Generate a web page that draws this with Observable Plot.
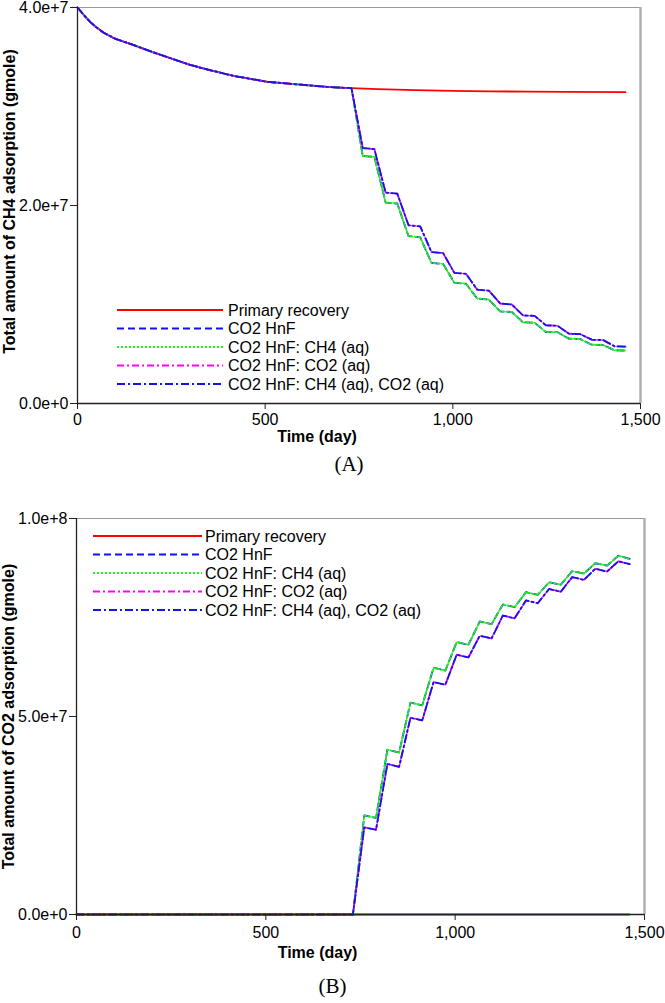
<!DOCTYPE html>
<html>
<head>
<meta charset="utf-8">
<script src="https://cdn.jsdelivr.net/npm/d3@7"></script>
<script src="https://cdn.jsdelivr.net/npm/@observablehq/plot@0.6"></script>
<style>
  html, body { margin: 0; padding: 0; background: #fff; }
  #wrap { position: relative; width: 665px; height: 1003px; overflow: hidden; font-family: "Liberation Sans", Arial, sans-serif; }
  .panel { position: absolute; left: 0; }
  .legend { position: absolute; left: 0; top: 0; pointer-events: none; }
</style>
</head>
<body>
<div id="wrap"></div>
<script>
// ---------------- DATA ----------------
const seriesNames = ["Primary recovery", "CO2 HnF", "CO2 HnF: CH4 (aq)", "CO2 HnF: CO2 (aq)", "CO2 HnF: CH4 (aq), CO2 (aq)"];
const seriesColors = ["#ff0000", "#1010ff", "#22ee22", "#ff00ff", "#1414e6"];
const seriesDash = [null, "7,4", "2,2", "7,3,2,3", "8,3,2,3"];

const xTicks = [0, 500, 1000, 1500];

// (A) CH4 adsorption — common decline before HnF starts (day 730)
const preDays = [0, 10, 20, 35, 50, 70, 100, 150, 200, 250, 300, 350, 415, 505, 595, 675, 730];
const preCH4 = [4.0e7, 3.955e7, 3.91e7, 3.85e7, 3.80e7, 3.745e7, 3.685e7, 3.62e7, 3.55e7, 3.485e7, 3.42e7, 3.37e7, 3.31e7, 3.25e7, 3.22e7, 3.195e7, 3.185e7];
const primaryLateDays = [800, 900, 1000, 1100, 1200, 1300, 1460];
const primaryLateCH4 = [3.175e7, 3.165e7, 3.158e7, 3.153e7, 3.15e7, 3.148e7, 3.145e7];

// HnF cycle break points (injection then soak/production)
const cycleDays = [760, 791, 821, 852, 882, 913, 943, 974, 1004, 1035, 1065, 1096, 1126, 1157, 1187, 1218, 1248, 1279, 1309, 1340, 1370, 1401, 1431, 1461];

const ch4_HnF   = [2.50e7, 2.49e7, 2.03e7, 2.02e7, 1.69e7, 1.68e7, 1.42e7, 1.41e7, 1.22e7, 1.21e7, 1.06e7, 1.05e7, 0.93e7, 0.925e7, 0.82e7, 0.815e7, 0.722e7, 0.72e7, 0.655e7, 0.65e7, 0.594e7, 0.59e7, 0.537e7, 0.535e7];
const ch4_CH4aq = [2.50e7, 2.49e7, 2.03e7, 2.02e7, 1.69e7, 1.68e7, 1.42e7, 1.41e7, 1.22e7, 1.21e7, 1.06e7, 1.05e7, 0.93e7, 0.925e7, 0.82e7, 0.815e7, 0.722e7, 0.72e7, 0.655e7, 0.65e7, 0.594e7, 0.59e7, 0.537e7, 0.535e7];
const ch4_CO2aq = [2.58e7, 2.57e7, 2.13e7, 2.12e7, 1.80e7, 1.79e7, 1.53e7, 1.52e7, 1.32e7, 1.31e7, 1.15e7, 1.14e7, 1.01e7, 1.00e7, 0.89e7, 0.885e7, 0.79e7, 0.785e7, 0.705e7, 0.70e7, 0.645e7, 0.64e7, 0.577e7, 0.575e7];
const ch4_both  = [2.58e7, 2.57e7, 2.13e7, 2.12e7, 1.80e7, 1.79e7, 1.53e7, 1.52e7, 1.32e7, 1.31e7, 1.15e7, 1.14e7, 1.01e7, 1.00e7, 0.89e7, 0.885e7, 0.79e7, 0.785e7, 0.705e7, 0.70e7, 0.645e7, 0.64e7, 0.577e7, 0.575e7];
const ch4YTicks = [0, 2e7, 4e7];

// (B) CO2 adsorption
const co2PreDays = [0, 730];
const co2Pre = [0, 0];
const co2PrimaryDays = [0, 1460];
const co2Primary = [0, 0];
const co2_HnF   = [2.50e7, 2.44e7, 4.16e7, 4.09e7, 5.35e7, 5.28e7, 6.23e7, 6.16e7, 6.88e7, 6.81e7, 7.40e7, 7.33e7, 7.83e7, 7.76e7, 8.14e7, 8.07e7, 8.39e7, 8.33e7, 8.67e7, 8.61e7, 8.87e7, 8.81e7, 9.06e7, 8.98e7];
const co2_CH4aq = [2.50e7, 2.44e7, 4.16e7, 4.09e7, 5.35e7, 5.28e7, 6.23e7, 6.16e7, 6.88e7, 6.81e7, 7.40e7, 7.33e7, 7.83e7, 7.76e7, 8.14e7, 8.07e7, 8.39e7, 8.33e7, 8.67e7, 8.61e7, 8.87e7, 8.81e7, 9.06e7, 8.98e7];
const co2_CO2aq = [2.20e7, 2.14e7, 3.80e7, 3.73e7, 4.97e7, 4.90e7, 5.87e7, 5.80e7, 6.56e7, 6.49e7, 7.04e7, 6.97e7, 7.55e7, 7.48e7, 7.93e7, 7.86e7, 8.22e7, 8.15e7, 8.52e7, 8.45e7, 8.73e7, 8.66e7, 8.92e7, 8.85e7];
const co2_both  = [2.20e7, 2.14e7, 3.80e7, 3.73e7, 4.97e7, 4.90e7, 5.87e7, 5.80e7, 6.56e7, 6.49e7, 7.04e7, 6.97e7, 7.55e7, 7.48e7, 7.93e7, 7.86e7, 8.22e7, 8.15e7, 8.52e7, 8.45e7, 8.73e7, 8.66e7, 8.92e7, 8.85e7];
const co2YTicks = [0, 5e7, 1e8];

// ---------------- BUILD ----------------
const FONT = '"Liberation Sans", Arial, sans-serif';

function seriesA() {
  return [
    {days: preDays.concat(primaryLateDays), values: preCH4.concat(primaryLateCH4)},
    {days: preDays.concat(cycleDays), values: preCH4.concat(ch4_HnF)},
    {days: preDays.concat(cycleDays), values: preCH4.concat(ch4_CH4aq)},
    {days: preDays.concat(cycleDays), values: preCH4.concat(ch4_CO2aq)},
    {days: preDays.concat(cycleDays), values: preCH4.concat(ch4_both)}
  ];
}
function seriesB() {
  return [
    {days: co2PrimaryDays, values: co2Primary},
    {days: co2PreDays.concat(cycleDays), values: co2Pre.concat(co2_HnF)},
    {days: co2PreDays.concat(cycleDays), values: co2Pre.concat(co2_CH4aq)},
    {days: co2PreDays.concat(cycleDays), values: co2Pre.concat(co2_CO2aq)},
    {days: co2PreDays.concat(cycleDays), values: co2Pre.concat(co2_both)}
  ];
}

function makeChart(o) {
  const lines = o.series.map((s, i) => Plot.line(
    s.days.map((d, j) => ({day: d, v: s.values[j]})),
    {x: "day", y: "v", stroke: seriesColors[i], strokeWidth: 1.8,
     strokeDasharray: seriesDash[i] || undefined}
  ));
  return Plot.plot({
    width: 665,
    height: o.height,
    marginLeft: o.ml, marginRight: o.mr, marginTop: o.mt, marginBottom: o.mb,
    style: {fontFamily: FONT, fontSize: "16px", color: "#000", background: "transparent"},
    x: {domain: [0, 1500]},
    y: {domain: [0, o.yMax]},
    marks: [
      Plot.ruleY([o.yMax], {stroke: "#9a9a9a", strokeWidth: 1}),
      Plot.ruleX([1500], {stroke: "#b0b0b0", strokeWidth: 2.5}),
      ...lines,
      Plot.ruleX([0], {stroke: "#222", strokeWidth: 1.3}),
      Plot.ruleY([0], {stroke: "#222", strokeWidth: 1.3}),
      Plot.axisY({ticks: o.yTicks, tickFormat: d => d.toExponential(1), tickSize: 7, tickPadding: 2, label: null, stroke: "#222"}),
      Plot.axisX({ticks: xTicks, tickFormat: d3.format(","), tickSize: 6, tickPadding: o.xPad, label: null, stroke: "#222"}),
      Plot.text([o.xTitle], {text: d => d, frameAnchor: "bottom", dy: o.xTitleDy, dx: o.xTitleDx, fontWeight: "bold", fontSize: 16}),
      Plot.text([o.yTitle], {text: d => d, frameAnchor: "left", textAnchor: "middle", rotate: -90, dx: -68, dy: o.yTitleDy, fontWeight: "bold", fontSize: 16}),
      Plot.text([o.caption], {text: d => d, frameAnchor: "bottom", dy: o.captionDy, dx: o.captionDx, fontFamily: '"Liberation Serif", "Times New Roman", serif', fontSize: 21})
    ]
  });
}

function makeLegend(top, rows0, lineX1, lineX2, textX, step) {
  const ns = "http://www.w3.org/2000/svg";
  const svg = document.createElementNS(ns, "svg");
  svg.setAttribute("width", 665);
  svg.setAttribute("height", 140);
  svg.setAttribute("class", "legend");
  svg.style.top = top + "px";
  seriesNames.forEach((name, i) => {
    const y = rows0 + i * step;
    const l = document.createElementNS(ns, "line");
    l.setAttribute("x1", lineX1); l.setAttribute("x2", lineX2);
    l.setAttribute("y1", y); l.setAttribute("y2", y);
    l.setAttribute("stroke", seriesColors[i]);
    l.setAttribute("stroke-width", 1.8);
    if (seriesDash[i]) l.setAttribute("stroke-dasharray", seriesDash[i]);
    svg.appendChild(l);
    const t = document.createElementNS(ns, "text");
    t.setAttribute("x", textX); t.setAttribute("y", y);
    t.setAttribute("dy", "0.35em");
    t.setAttribute("font-family", FONT);
    t.setAttribute("font-size", 16);
    t.setAttribute("fill", "#000");
    t.textContent = name;
    svg.appendChild(t);
  });
  return svg;
}

const wrap = document.getElementById("wrap");

const chartA = makeChart({
  series: seriesA(), yMax: 4e7, yTicks: ch4YTicks, height: 495,
  ml: 77, mr: 25, mt: 7, mb: 92,
  xPad: 4, xTitleDy: 38, xTitleDx: -42,
  yTitle: "Total amount of CH4 adsorption (gmole)", yTitleDy: -4,
  xTitle: "Time (day)",
  caption: "(A)", captionDy: 67, captionDx: -10
});
chartA.classList.add("panel");
chartA.style.top = "0px";
wrap.appendChild(chartA);

const chartB = makeChart({
  series: seriesB(), yMax: 1e8, yTicks: co2YTicks, height: 492,
  ml: 76, mr: 21, mt: 7, mb: 89,
  xPad: 6, xTitleDy: 43, xTitleDx: -43,
  yTitle: "Total amount of CO2 adsorption (gmole)", yTitleDy: 0,
  xTitle: "Time (day)",
  caption: "(B)", captionDy: 78, captionDx: -28
});
chartB.classList.add("panel");
chartB.style.top = "511px";
wrap.appendChild(chartB);

wrap.appendChild(makeLegend(290, 20, 117, 223, 228, 18.5));
wrap.appendChild(makeLegend(516, 20, 93, 202, 205, 18.5));
</script>
</body>
</html>
